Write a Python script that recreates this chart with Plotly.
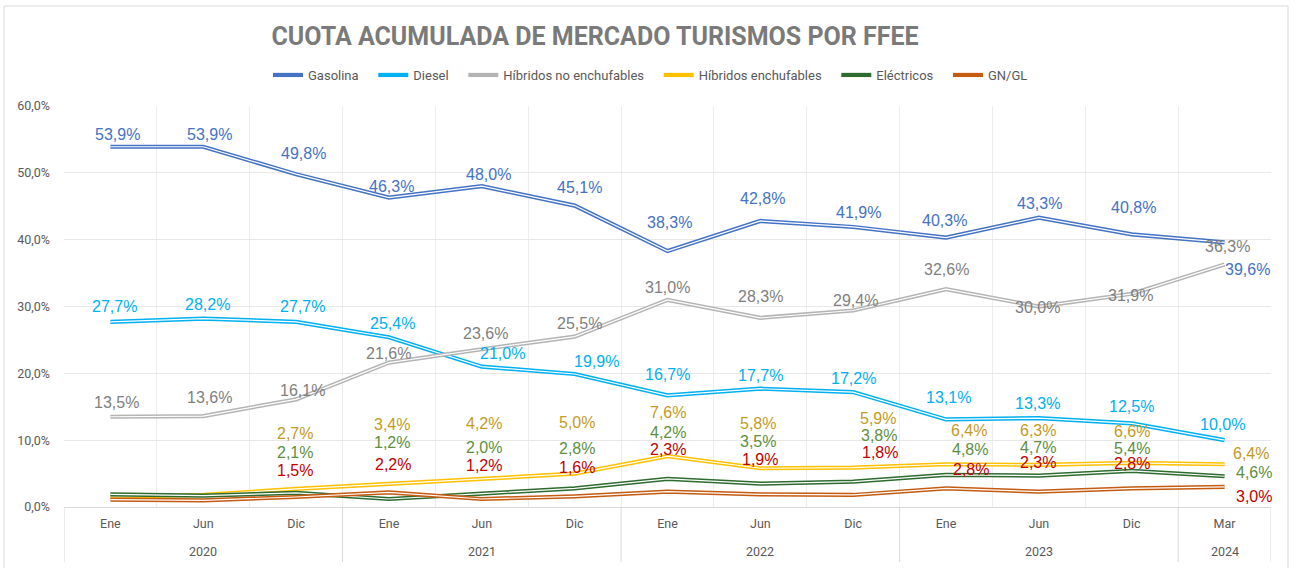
import plotly.graph_objects as go

# ---------------- data ----------------
years = ["2020", "2020", "2020", "2021", "2021", "2021", "2022", "2022", "2022",
         "2023", "2023", "2023", "2024"]
months = ["Ene", "Jun", "Dic", "Ene", "Jun", "Dic", "Ene", "Jun", "Dic",
          "Ene", "Jun", "Dic", "Mar"]

gasolina = [53.9, 53.9, 49.8, 46.3, 48.0, 45.1, 38.3, 42.8, 41.9, 40.3, 43.3, 40.8, 39.6]
diesel = [27.7, 28.2, 27.7, 25.4, 21.0, 19.9, 16.7, 17.7, 17.2, 13.1, 13.3, 12.5, 10.0]
hev = [13.5, 13.6, 16.1, 21.6, 23.6, 25.5, 31.0, 28.3, 29.4, 32.6, 30.0, 31.9, 36.3]
phev = [1.5, 1.8, 2.7, 3.4, 4.2, 5.0, 7.6, 5.8, 5.9, 6.4, 6.3, 6.6, 6.4]
electricos = [1.9, 1.7, 2.1, 1.2, 2.0, 2.8, 4.2, 3.5, 3.8, 4.8, 4.7, 5.4, 4.6]
gngl = [1.1, 1.0, 1.5, 2.2, 1.2, 1.6, 2.3, 1.9, 1.8, 2.8, 2.3, 2.8, 3.0]

names = ["Gasolina", "Diesel", "Híbridos no enchufables", "Híbridos enchufables",
         "Eléctricos", "GN/GL"]
series = [gasolina, diesel, hev, phev, electricos, gngl]
# which points carry a data label
labelled = [
    [True] * 13,
    [True] * 13,
    [True] * 13,
    [False, False] + [True] * 11,
    [False, False] + [True] * 11,
    [False, False] + [True] * 11,
]

# ---------------- styles ----------------
line_colors = ["#4472C4", "#00B0F0", "#B4B4B4", "#FFC000", "#2D6B2F", "#C55A11"]
label_colors = ["#4472C4", "#00B0F0", "#7F7F7F", "#C49A22", "#5E8F3E", "#C00000"]

# label offsets in pixels (dx, dy up) relative to the point
label_dx = [
    [7, 6, 7, 3, 7, 5, 2, 2, 5, -2, 1, 2, 23],
    [4, 4, 6, 4, 21, 22, 0, 0, 0, 2, -1, 0, -2],
    [6, 6, 6, 0, 4, 5, 0, 0, 2, 0, -1, -1, 3],
    [0, 0, -1, 3, 2, 2, 0, -2, 25, 23, -1, 0, 26],
    [0, 0, -1, 3, 2, 2, 0, -2, 26, 24, -1, 0, 29],
    [0, 0, -1, 4, 2, 2, 0, 0, 27, 25, -1, 0, 29],
]
label_dy = [
    [12, 12, 21, 11, 12, 18, 29, 22, 14, 17, 14, 27, -27],
    [15, 14, 15, 14, 13, 13, 21, 13, 14, 22, 15, 17, 16],
    [14, 19, 9, 9, 16, 13, 12, 21, 10, 20, -1, -2, 18],
    [0, 0, 55, 60, 55, 51, 44, 45, 49, 34, 34, 31, 11],
    [0, 0, 40, 56, 46, 40, 46, 42, 46, 25, 28, 22, 4],
    [0, 0, 26, 28, 33, 29, 42, 35, 42, 19, 29, 25, -10],
]

NARROW = "Roboto, Inter, sans-serif"
LABEL_FONT = "Liberation Sans, Arial, sans-serif"
AXIS_GREY = "#595959"
LEGEND_PAD = "\u00a0" * 3

W, H = 1296, 568
ML, MR, MT, MB = 64, 25, 106, 61
PW, PH = W - ML - MR, H - MT - MB

keys = [f"{m} {y}" for m, y in zip(months, years)]

fig = go.Figure()
for name, vals, lc in zip(names, series, line_colors):
    fig.add_trace(go.Scatter(
        x=keys, y=vals, name=name + LEGEND_PAD, mode="lines",
        line=dict(color=lc, width=4.2), hoverinfo="skip",
    ))
    fig.add_trace(go.Scatter(
        x=keys, y=vals, mode="lines", showlegend=False,
        line=dict(color="white", width=1.2), hoverinfo="skip",
    ))

annotations = []
for s, vals in enumerate(series):
    for i, v in enumerate(vals):
        if not labelled[s][i]:
            continue
        annotations.append(dict(
            x=keys[i], y=v, xref="x", yref="y",
            text=f"{v:.1f}%".replace(".", ","),
            showarrow=False,
            xshift=label_dx[s][i], yshift=label_dy[s][i],
            font=dict(family=LABEL_FONT, size=16, color=label_colors[s]),
        ))

# year group labels and dividers of the two-level axis
groups = []
for i, y in enumerate(years):
    if groups and groups[-1][0] == y:
        groups[-1][2] = i
    else:
        groups.append([y, i, i])
for y, first, last in groups:
    annotations.append(dict(
        x=(first + last) / 2, y=0, xref="x", yref="paper",
        yanchor="middle", yshift=-44, showarrow=False, text=y,
        font=dict(family=NARROW, size=12.5, color=AXIS_GREY),
    ))

shapes = []
bounds = [g[1] - 0.5 for g in groups] + [groups[-1][2] + 0.5]
for b in bounds:
    shapes.append(dict(
        type="line", xref="x", yref="paper", x0=b, x1=b,
        y0=0, y1=-(562 - 507) / PH, line=dict(color="#D9D9D9", width=1),
    ))

# outer chart border
shapes.append(dict(
    type="rect", xref="paper", yref="paper",
    x0=(4 - ML) / PW, x1=(1288 - ML) / PW,
    y0=(507 - 600) / PH, y1=(507 - 6) / PH,
    line=dict(color="#D9D9D9", width=1), fillcolor="rgba(0,0,0,0)", layer="below",
))

fig.update_layout(
    width=W, height=H,
    margin=dict(l=ML, r=MR, t=MT, b=MB, autoexpand=False),
    paper_bgcolor="white", plot_bgcolor="white",
    separators=",.",
    title=dict(
        text="<b>CUOTA ACUMULADA DE MERCADO TURISMOS POR FFEE</b>",
        x=(595 - ML) / PW, xref="paper", xanchor="center",
        y=1 - 36 / H, yref="container", yanchor="middle",
        font=dict(family=NARROW, size=25, color="#7A7A7A"),
    ),
    legend=dict(
        orientation="h", x=(655 - ML) / PW, xanchor="center",
        y=(507 - 75) / PH, yanchor="middle",
        font=dict(family=NARROW, size=13, color=AXIS_GREY),
        bgcolor="rgba(0,0,0,0)", itemwidth=30, tracegroupgap=0,
    ),
    annotations=annotations,
    shapes=shapes,
    showlegend=True,
)

fig.update_yaxes(
    range=[0, 60], dtick=10, tickformat=".1f", ticksuffix="%",
    showgrid=True, gridcolor="#E8E8E8", gridwidth=1,
    zeroline=False, showline=False,
    tickfont=dict(family=NARROW, size=12.5, color=AXIS_GREY),
    ticklabelstandoff=13, fixedrange=True,
)
fig.update_xaxes(
    type="category", range=[-0.5, len(keys) - 0.5],
    tickmode="array", tickvals=keys, ticktext=months,
    tickson="boundaries",
    showgrid=True, gridcolor="#EDEDED", gridwidth=1,
    showline=True, linecolor="#D9D9D9", linewidth=1,
    ticks="", ticklabelstandoff=5,
    tickfont=dict(family=NARROW, size=12.5, color=AXIS_GREY),
    fixedrange=True,
)

fig.write_html("out.html", config={"displayModeBar": False},
               post_script="document.body.style.margin='0';")
